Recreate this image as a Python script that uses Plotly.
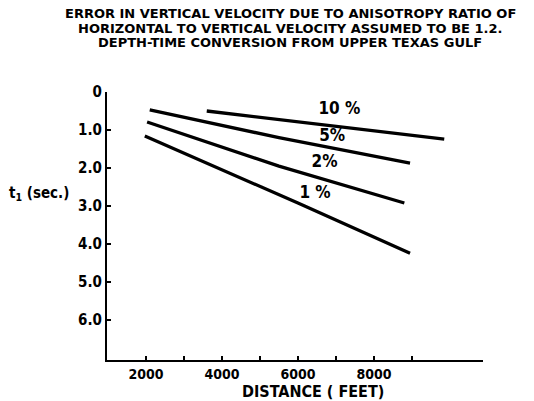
import plotly.graph_objects as go

# Data
dist_10 = [3600, 9850]
t_10 = [0.50, 1.24]
dist_5 = [2100, 5500, 8950]
t_5 = [0.47, 1.20, 1.87]
dist_2 = [2030, 5500, 8800]
t_2 = [0.79, 1.95, 2.92]
dist_1 = [1970, 6000, 8950]
t_1 = [1.16, 2.92, 4.24]

label_text = ["<b>10 %</b>", "<b>5%</b>", "<b>2%</b>", "<b>1 %</b>"]
label_x = [7090, 6900, 6700, 6450]
label_y = [0.47, 1.18, 1.87, 2.68]

x_major = [2000, 4000, 6000, 8000]
x_minor = [3000, 5000, 7000, 9000]
x_ticktext = ["<b>2000</b>", "<b>4000</b>", "<b>6000</b>", "<b>8000</b>"]
y_tickvals = [0, 1, 2, 3, 4, 5, 6]
y_ticktext = ["<b>0</b>", "<b>1.0</b>", "<b>2.0</b>", "<b>3.0</b>",
              "<b>4.0</b>", "<b>5.0</b>", "<b>6.0</b>"]

title_lines = ["ERROR IN VERTICAL VELOCITY DUE TO ANISOTROPY RATIO OF",
               "HORIZONTAL TO VERTICAL VELOCITY ASSUMED TO BE 1.2.",
               "DEPTH-TIME CONVERSION FROM UPPER TEXAS GULF"]

FONT = "DejaVu Sans Condensed, DejaVu Sans, sans-serif"
TITLE_FONT = "DejaVu Sans, sans-serif"

fig = go.Figure()
for xs, ys in [(dist_10, t_10), (dist_5, t_5), (dist_2, t_2), (dist_1, t_1)]:
    fig.add_trace(go.Scatter(x=xs, y=ys, mode="lines",
                             line=dict(color="black", width=3.3),
                             showlegend=False, hoverinfo="skip"))

fig.add_trace(go.Scatter(x=label_x, y=label_y, mode="text", text=label_text,
                         textfont=dict(family=FONT, size=17, color="black"),
                         showlegend=False, hoverinfo="skip"))

L, R, T, B = 107, 51, 92, 41
W, H = 534, 401
pw, ph = W - L - R, H - T - B

def px(x):
    return (x - L) / pw

def py(y):
    return (H - B - y) / ph

annotations = []
for i, line in enumerate(title_lines):
    annotations.append(dict(text="<b>" + line + "</b>", xref="paper", yref="paper",
                            x=px(290), y=py(13.5 + 14.5 * i), xanchor="center",
                            yanchor="middle", showarrow=False,
                            font=dict(family=TITLE_FONT, size=13, color="black")))
annotations.append(dict(text="<b>t<sub>1</sub> (sec.)</b>", xref="paper", yref="paper",
                        x=px(7), y=py(193), xanchor="left", yanchor="middle",
                        showarrow=False, font=dict(family=FONT, size=15, color="black")))
annotations.append(dict(text="<b>DISTANCE ( FEET)</b>", xref="paper", yref="paper",
                        x=px(313), y=py(391), xanchor="center", yanchor="middle",
                        showarrow=False, font=dict(family=FONT, size=16, color="black")))

fig.update_layout(
    width=W, height=H,
    margin=dict(l=L, r=R, t=T, b=B, pad=0),
    paper_bgcolor="white", plot_bgcolor="white",
    font=dict(family=FONT, color="black", size=13),
    xaxis=dict(range=[975, 10870], tickvals=x_major, ticktext=x_ticktext,
               ticks="inside", ticklen=4, tickwidth=1.5, tickcolor="black",
               minor=dict(tickvals=x_minor, ticks="inside", ticklen=4,
                          tickwidth=1.5, tickcolor="black", showgrid=False),
               showline=True, linecolor="black", linewidth=2,
               showgrid=False, zeroline=False,
               tickfont=dict(family=FONT, size=14, color="black")),
    yaxis=dict(range=[7.05, 0], tickvals=y_tickvals, ticktext=y_ticktext,
               ticks="inside", ticklen=4, tickwidth=1.5, tickcolor="black",
               showline=True, linecolor="black", linewidth=2,
               showgrid=False, zeroline=False,
               tickfont=dict(family=FONT, size=15, color="black")),
    annotations=annotations,
)

fig.write_html("out.html")
